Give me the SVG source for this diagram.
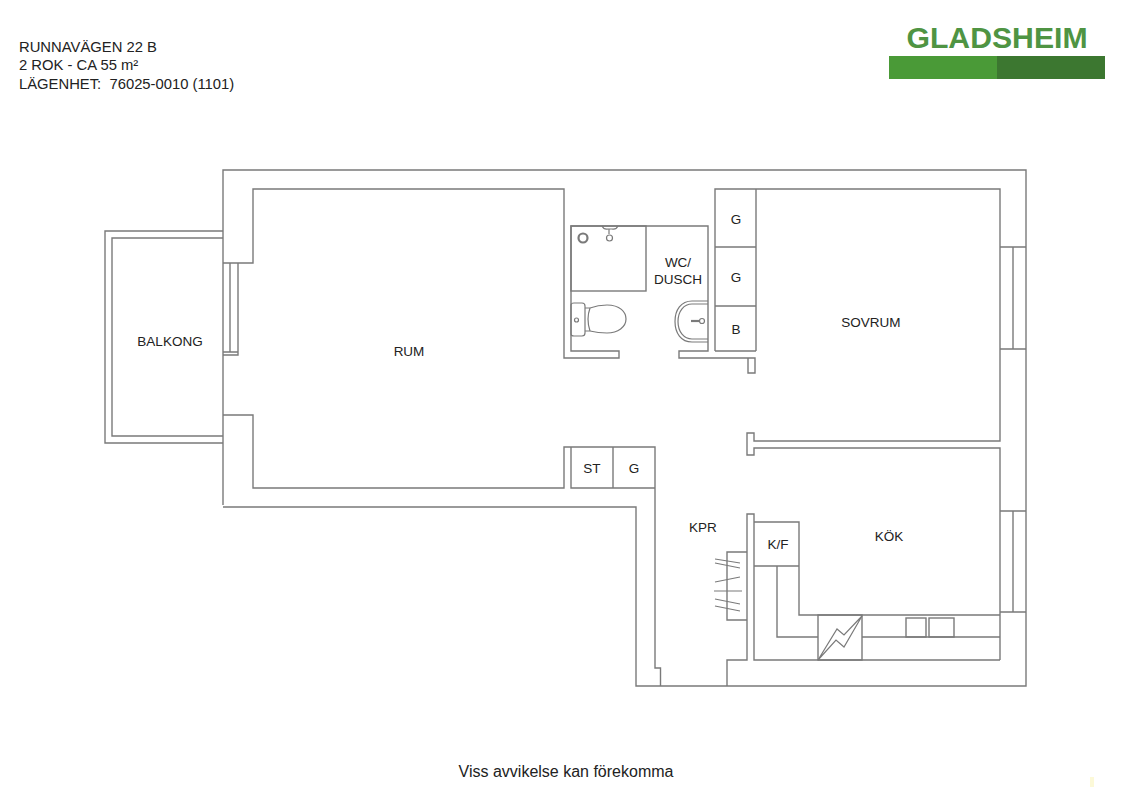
<svg xmlns="http://www.w3.org/2000/svg" width="1131" height="800" viewBox="0 0 1131 800">
<style>
.w{fill:none;stroke:#7a7a7a;stroke-width:1.4;stroke-linejoin:miter}
.f{fill:none;stroke:#7a7a7a;stroke-width:1.2}
.t{stroke-width:2.200}
text{font-family:"Liberation Sans",Arial,sans-serif;fill:#222}
.l{font-size:13.5px;text-anchor:middle}
.h{font-size:14.800px}
</style>
<rect width="1131" height="800" fill="#fff"/>
<g id="header">
<text class="h" x="19" y="52">RUNNAVÄGEN 22 B</text>
<text class="h" x="19" y="70">2 ROK - CA 55 m²</text>
<text class="h" x="19" y="88.500" xml:space="preserve">LÄGENHET:  76025-0010 (1101)</text>
</g>
<g id="logo">
<text x="997" y="48" text-anchor="middle" font-size="30.200" font-weight="700" style="fill:#4f9443">GLADSHEIM</text>
<rect x="889" y="56" width="108" height="23" fill="#4a9a37"/>
<rect x="997" y="56" width="108" height="23" fill="#3c7730"/>
</g>
<g id="walls">
<path class="w" d="M223 505V170H1026V686H636V507H223"/>
<path class="w" d="M223 263H253V189H564V358H619V351H571V226H708V351H679V358H755V373H748V358"/>
<path class="w" d="M223 415H253V488H564V447H655V668H660.500V686"/>
<path class="w" d="M571 447V488H655M613 447V488"/>
<path class="w" d="M715 351V189H1000V247M756 189V351M715 351H756M715 247H756M715 306H756"/>
<path class="w" d="M1000 247V349M1013 247V349M1000 247H1026M1000 349H1026M1000 349V441H754V433H747V455H754V448H1000V511"/>
<path class="w" d="M1000 511V612M1013 511V612M1000 511H1026M1000 612H1026M1000 612V660"/>
<path class="w" d="M727 686V660H747V514H754V522H799V615H1000M754 522V660H1000M754 566H799M777 566V637H818M862 637H1000"/>
</g>
<g id="balcony">
<path class="w" d="M223 231H105V443H223M223 238H112V436H223"/>
<path class="w" d="M230 263V352M238 263V355H223M223 352H238"/>
</g>
<g id="bathroom">
<rect class="w" x="571" y="226" width="75" height="65"/>
<circle class="f t" cx="583" cy="238" r="4.500"/>
<path class="f" d="M602 226Q604 230 608 229H612Q616 230 618 226M609 229V234"/>
<circle class="f" cx="609.500" cy="238" r="3"/>
<path class="f" d="M571 305Q571 303 574 303H582Q585 303 585 306V333Q585 336 582 336H574Q571 336 571 334Z"/>
<circle class="f" cx="576.500" cy="320" r="2"/>
<path class="f" d="M585 308H590Q598 305 607 305C620 305 626 312 626 319C626 327 618 333 607 333Q598 333 590 331H585"/>
<path class="f" d="M590 308Q586 319 590 331"/>
<path class="f" d="M708 301H692C681 301 675 310 675 321.500C675 333 681 342 692 342H708M708 304H692C684 304 678 311 678 321.500C678 332 684 339 692 339H708"/>
<path class="f t" d="M691 321H699"/>
<circle class="f" cx="702" cy="321" r="2.500"/>
</g>
<g id="kitchen">
<rect class="w" x="818" y="615" width="44" height="45"/>
<path class="f" d="M818 660L837 629L844 635L862 616L844 647L836 640Z"/>
<rect class="w" x="906" y="618" width="20" height="19"/>
<rect class="w" x="929" y="618" width="25" height="19"/>
</g>
<g id="panel">
<path class="w" d="M747 552H727V620H747"/>
<path class="f" d="M715 559L740 563M715 563L740 568M715 582L740 577M714 591H742M715 599L740 604M715 606L740 611"/>
</g>
<g id="labels">
<text class="l" x="170" y="346">BALKONG</text>
<text class="l" x="409" y="356">RUM</text>
<text class="l" x="678" y="267">WC/</text>
<text class="l" x="678" y="284">DUSCH</text>
<text class="l" x="736" y="224">G</text>
<text class="l" x="736" y="282">G</text>
<text class="l" x="736" y="334">B</text>
<text class="l" x="871" y="327">SOVRUM</text>
<text class="l" x="592" y="473">ST</text>
<text class="l" x="634" y="473">G</text>
<text class="l" x="703" y="532">KPR</text>
<text class="l" x="778" y="549">K/F</text>
<text class="l" x="889" y="541">KÖK</text>
<text x="566" y="777" text-anchor="middle" font-size="16">Viss avvikelse kan förekomma</text>
</g>
<rect x="1090" y="777" width="4" height="10" fill="#fcf9d8"/>
</svg>
